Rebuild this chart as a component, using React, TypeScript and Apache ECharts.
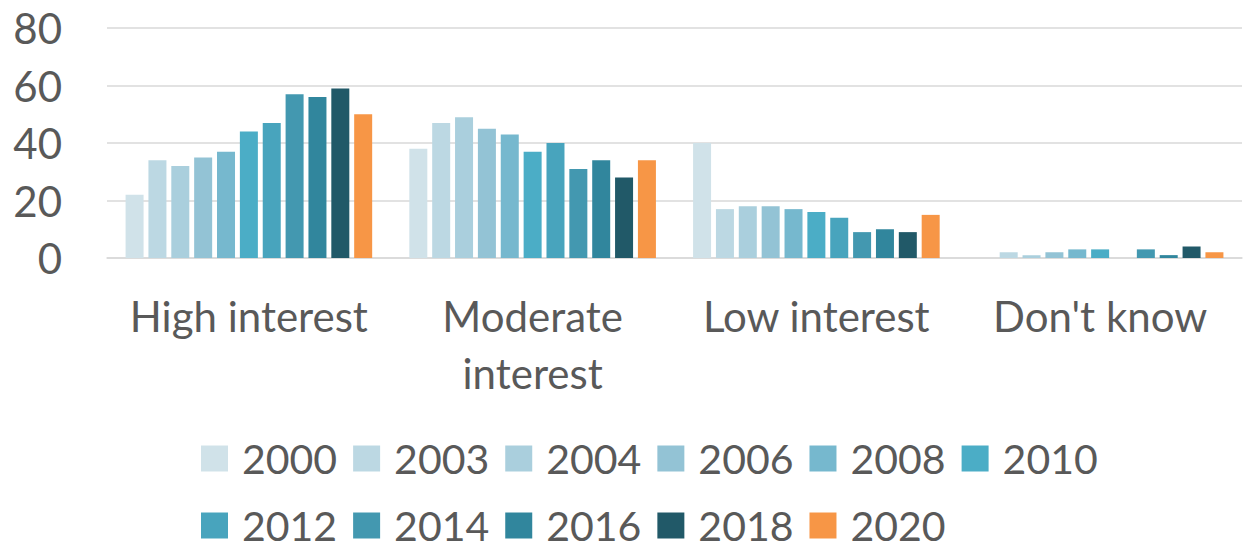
import React, { useEffect, useRef } from "react";
import * as echarts from "echarts";

const categories = ["High interest", "Moderate interest", "Low interest", "Don't know"];
const years = ["2000", "2003", "2004", "2006", "2008", "2010", "2012", "2014", "2016", "2018", "2020"];
const colors = [
  "#D0E2E9", "#BCD8E3", "#AACFDD", "#93C3D5", "#76B8CE", "#4BADC6",
  "#48A4BD", "#4398B0", "#31869D", "#215968", "#F79646",
];
// values per year, in category order
const v2000 = [22, 38, 40, 0];
const v2003 = [34, 47, 17, 2];
const v2004 = [32, 49, 18, 1];
const v2006 = [35, 45, 18, 2];
const v2008 = [37, 43, 17, 3];
const v2010 = [44, 37, 16, 3];
const v2012 = [47, 40, 14, 0];
const v2014 = [57, 31, 9, 3];
const v2016 = [56, 34, 10, 1];
const v2018 = [59, 28, 9, 4];
const v2020 = [50, 34, 15, 2];
const values = [v2000, v2003, v2004, v2006, v2008, v2010, v2012, v2014, v2016, v2018, v2020];
const yTicks = { min: 0, max: 80, interval: 20 };

const FONT = "Lato";
const TXT = "#595959";

export default function App() {
  const ref = useRef<HTMLDivElement>(null);
  useEffect(() => {
    if (!ref.current) return;
    const chart = echarts.init(ref.current, undefined, { renderer: "svg" });
    const legendBase = {
      left: 196,
      orient: "horizontal",
      itemWidth: 27,
      itemHeight: 26,
      itemGap: 16,
      icon: "rect",
      textStyle: { fontFamily: FONT, fontSize: 41, color: TXT, lineHeight: 40, padding: [0, 0, 0, 9] },
    };
    chart.setOption({
      animation: false,
      textStyle: { fontFamily: FONT },
      grid: { left: 107, right: 7, top: 28, bottom: 293, containLabel: false },
      legend: [
        { ...legendBase, top: 433, data: years.slice(0, 6) },
        { ...legendBase, top: 500, data: years.slice(6) },
      ],
      xAxis: {
        type: "category",
        data: categories,
        axisLine: { lineStyle: { color: "#D9D9D9", width: 1.5 } },
        axisTick: { show: false },
        axisLabel: {
          interval: 0,
          margin: 29,
          fontFamily: FONT,
          fontSize: 42,
          color: TXT,
          lineHeight: 57,
          formatter: (v: string) => (v === "Moderate interest" ? "Moderate\ninterest" : v),
        },
      },
      yAxis: {
        type: "value",
        min: yTicks.min,
        max: yTicks.max,
        interval: yTicks.interval,
        axisLine: { show: false },
        axisTick: { show: false },
        splitLine: { lineStyle: { color: "#D9D9D9", width: 1.5 } },
        axisLabel: { margin: 45, fontFamily: FONT, fontSize: 42, color: TXT },
      },
      series: years.map((y, i) => ({
        name: y,
        type: "bar",
        data: values[i],
        barWidth: 18,
        barGap: "27%",
        itemStyle: { color: colors[i] },
      })),
    });
    return () => chart.dispose();
  }, []);
  return <div ref={ref} style={{ width: 1249, height: 551, position: "absolute", left: 0, top: 0 }} />;
}
